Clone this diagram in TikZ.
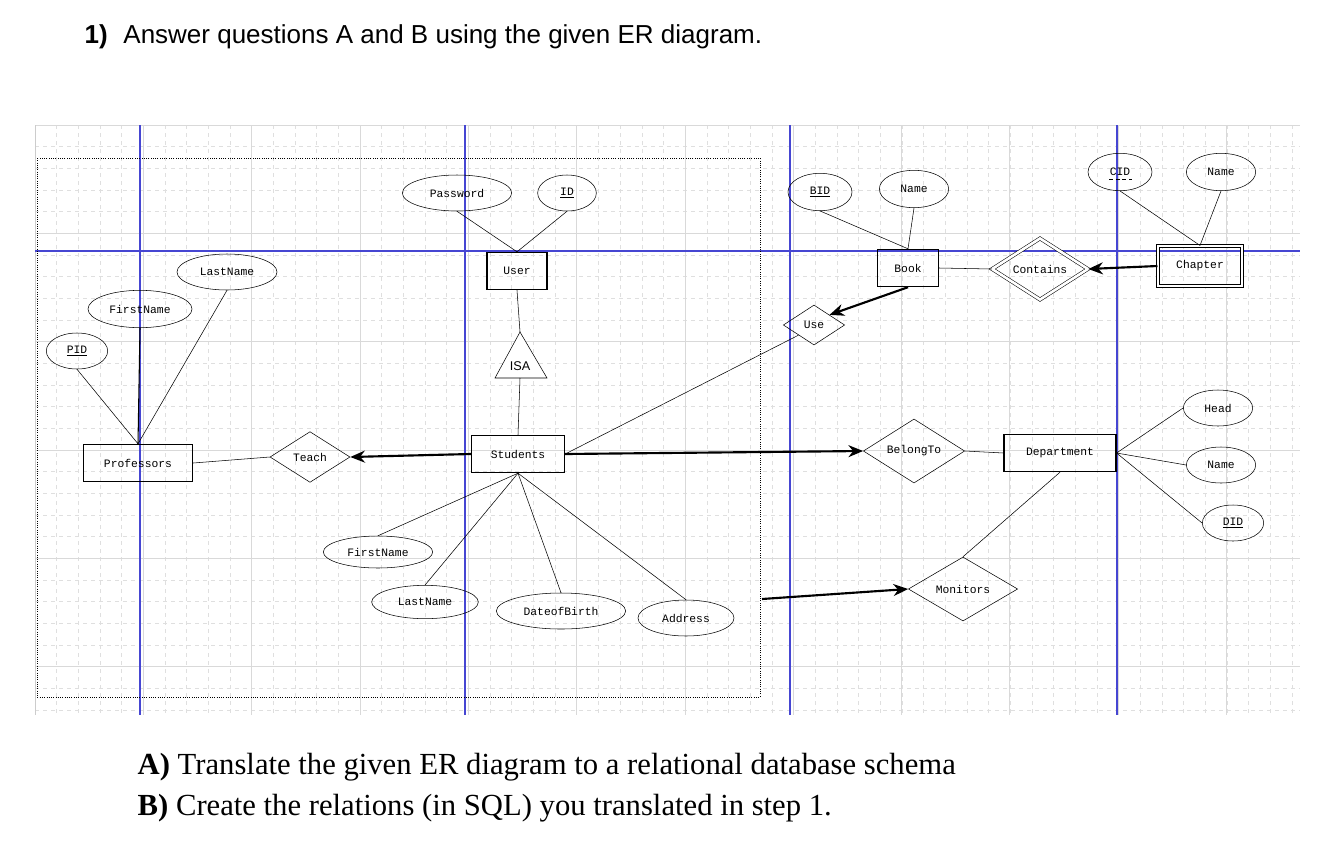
\documentclass[tikz,border=0pt]{standalone}
\usepackage{fontspec}
\setmainfont{Liberation Serif}
\newfontfamily\mono{Liberation Mono}
\newfontfamily\sans{Liberation Sans}
\usetikzlibrary{shapes.geometric,arrows.meta,shapes.misc}
\begin{document}
\begin{tikzpicture}[x=0.75pt,y=-0.75pt,
 txt/.style={font=\mono\fontsize{8.5}{9}\selectfont},
 ent/.style={draw,thick,rectangle,txt,inner sep=0pt},
 att/.style={draw,ellipse,txt,inner sep=0pt},
 rel/.style={draw,diamond,txt,inner sep=0pt,aspect=1.6},
 con/.style={line width=0.4pt},
 big/.style={line width=1.6pt,-{Stealth[length=11pt,width=9pt]}},
 gridl/.style={draw=gray!25,dashed,line width=0.4pt},
 bline/.style={draw={rgb,255:red,70;green,70;blue,210},line width=0.9pt}]
\useasboundingbox (0,0) rectangle (1338,850);
\fill[white] (0,0) rectangle (1338,850);
% grid
\foreach \i in {0,...,58} {\draw[gridl] ({35+\i*21.67},125) -- ({35+\i*21.67},715);}
\foreach \j in {0,...,27} {\draw[gridl] (35,{125+\j*21.67}) -- (1300,{125+\j*21.67});}
\foreach \i in {0,...,11} {\draw[gray!30] ({35+\i*108.3},125) -- ({35+\i*108.3},715);}
\foreach \j in {0,...,5} {\draw[gray!30] (35,{125+\j*108.3}) -- (1300,{125+\j*108.3});}
\draw[gray!40] (35,125) -- (35,715);
\foreach \x in {140,465,790,1117} {\draw[bline] (\x,125) -- (\x,715);}
\draw[bline] (35,251) -- (1300,251);
\draw[densely dotted,line width=0.7pt] (37,158) rectangle (760,697);
% heading
\node[anchor=west,font=\sans\fontsize{19.5}{22}\selectfont] (h) at (80,37) {\textbf{1)}\hspace{0.6em}Answer questions A and B using the given ER diagram.};
\node[anchor=west,font=\fontsize{23}{26}\selectfont] (qa) at (133,767) {\textbf{A)}\ Translate the given ER diagram to a relational database schema};
\node[anchor=west,font=\fontsize{23}{26}\selectfont] (qb) at (133,808) {\textbf{B)}\ Create the relations (in SQL) you translated in step 1.};
% nodes
\node[att,minimum width=82pt,minimum height=27pt] (pw) at (457,193) {Password};
\node[att,minimum width=44pt,minimum height=27pt] (id) at (567,193) {\underline{ID}};
\node[ent,minimum width=45pt,minimum height=28pt] (user) at (517,271) {User};
\draw[fill=white] (495,378) -- (520,332) -- (547,378) -- cycle;
\node[font=\sans\fontsize{9.5}{10}\selectfont] (isa) at (520,366) {ISA};
\coordinate (isat) at (520,332); \coordinate (isab) at (520,378);
\node[ent,minimum width=70pt,minimum height=28pt] (stu) at (518,454) {Students};
\node[att,minimum width=75pt,minimum height=27pt] (pln) at (227,272) {LastName};
\node[att,minimum width=78pt,minimum height=28pt] (pfn) at (140,309) {FirstName};
\node[att,minimum width=46pt,minimum height=27pt] (pid) at (77,351) {\underline{PID}};
\node[ent,minimum width=82pt,minimum height=28pt] (prof) at (138,463) {Professors};
\node[rel,minimum width=60pt,minimum height=38pt] (teach) at (310,457) {Teach};
\node[att,minimum width=82pt,minimum height=24pt] (sfn) at (378,552) {FirstName};
\node[att,minimum width=80pt,minimum height=25pt] (sln) at (425,602) {LastName};
\node[att,minimum width=97pt,minimum height=27pt] (dob) at (561,611) {DateofBirth};
\node[att,minimum width=72pt,minimum height=27pt] (addr) at (686,618) {Address};
\node[att,minimum width=48pt,minimum height=28pt] (bid) at (820,192) {\underline{BID}};
\node[att,minimum width=52pt,minimum height=28pt] (bname) at (914,189) {Name};
\node[ent,minimum width=46pt,minimum height=28pt] (book) at (908,268) {Book};
\node[rel,minimum width=72pt,minimum height=46pt,double,double distance=2pt] (cont) at (1040,269) {Contains};
\node[ent,minimum width=63pt,minimum height=30pt,double,double distance=2pt] (chap) at (1200,266) {Chapter};
\node[att,minimum width=48pt,minimum height=28pt] (cid) at (1120,172) {CID};
\draw[dashed,dash pattern=on 3pt off 2pt,line width=0.5pt] (1109,179.5) -- (1132,179.5);
\node[att,minimum width=52pt,minimum height=28pt] (cname) at (1221,172) {Name};
\node[rel,minimum width=46pt,minimum height=30pt] (use) at (814,325) {Use};
\node[rel,minimum width=76pt,minimum height=48pt] (bel) at (914,451) {BelongTo};
\node[ent,minimum width=84pt,minimum height=28pt] (dept) at (1060,453) {Department};
\node[att,minimum width=52pt,minimum height=27pt] (head) at (1218,408) {Head};
\node[att,minimum width=52pt,minimum height=27pt] (dname) at (1221,465) {Name};
\node[att,minimum width=46pt,minimum height=27pt] (did) at (1233,523) {\underline{DID}};
\node[rel,minimum width=82pt,minimum height=48pt] (mon) at (963,589) {Monitors};
\coordinate (monsrc) at (762,599);
% connectors
\draw[con] (pw.south) -- (user.north); \draw[con] (id.south) -- (user.north);
\draw[con] (user.south) -- (isat); \draw[con] (isab) -- (stu.north);
\draw[con] (pid.south) -- (prof.north); \draw[con,thick] (pfn.south) -- (prof.north); \draw[con] (pln.south) -- (prof.north);
\draw[con] (prof.east) -- (teach.west);
\draw[big] (stu.west) -- (teach.east);
\draw[big] (stu.east) -- (bel.west);
\foreach \a in {sfn,sln,dob,addr} {\draw[con] (stu.south) -- (\a.north);}
\draw[con] (stu.east) -- (use.south west);
\draw[big] (book.south) -- (use.north east);
\draw[con] (bid.south) -- (book.north); \draw[con] (bname.south) -- (book.north);
\draw[con] (book.east) -- (cont.west);
\draw[big] (chap.west) -- (cont.east);
\draw[con] (cid.south) -- (chap.north); \draw[con] (cname.south) -- (chap.north);
\draw[con] (bel.east) -- (dept.west);
\draw[con] (dept.east) -- (head.west); \draw[con] (dept.east) -- (dname.west); \draw[con] (dept.east) -- (did.west);
\draw[con] (dept.south) -- (mon.north);
\draw[big] (monsrc) -- (mon.west);
\end{tikzpicture}
\end{document}
